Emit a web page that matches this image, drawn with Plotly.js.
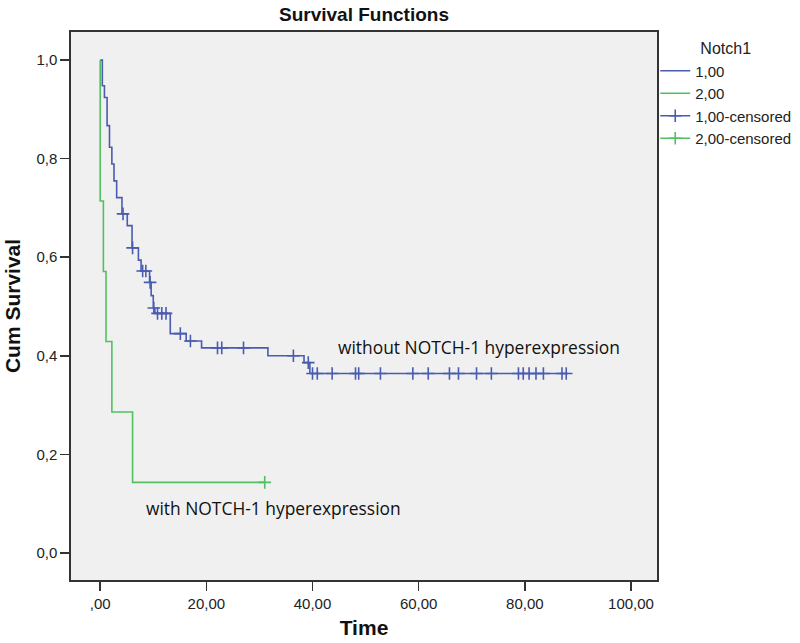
<!DOCTYPE html>
<html>
<head>
<meta charset="utf-8">
<script src="https://cdn.plot.ly/plotly-3.0.1.min.js"></script>
<style>
  body { margin: 0; background: #fff; }
  #chart { width: 800px; height: 643px; }
</style>
</head>
<body>
<div id="chart"></div>
<script>
// Kaplan-Meier survival by Notch1 group

// group 1,00 (without NOTCH-1 hyperexpression) - step curve
const blueTime = [0, 0.4, 0.8, 1.3, 1.75, 2.2, 2.6, 3.1, 4.1, 5.1, 6.0, 7.2, 7.7, 9.3, 9.6, 10.0, 10.3, 13.2, 16.2, 19.1, 31.6, 38.4, 39.5, 88.0];
const blueSurv = [1.0, 0.948, 0.924, 0.867, 0.823, 0.789, 0.755, 0.721, 0.688, 0.664, 0.619, 0.594, 0.572, 0.549, 0.522, 0.497, 0.486, 0.445, 0.430, 0.416, 0.400, 0.386, 0.364, 0.364];

// group 1,00 censored cases
const blueCensTime = [4.3, 6.1, 8.0, 8.6, 9.4, 10.1, 10.8, 11.6, 12.4, 15.1, 17.0, 22.1, 22.9, 27.0, 36.4, 39.2, 40.0, 40.9, 43.7, 48.1, 48.7, 52.8, 58.9, 61.8, 65.8, 67.5, 70.9, 73.7, 78.8, 79.7, 80.8, 82.1, 83.5, 87.0, 87.8];
const blueCensSurv = [0.688, 0.619, 0.572, 0.572, 0.549, 0.497, 0.486, 0.486, 0.486, 0.445, 0.430, 0.416, 0.416, 0.416, 0.400, 0.386, 0.364, 0.364, 0.364, 0.364, 0.364, 0.364, 0.364, 0.364, 0.364, 0.364, 0.364, 0.364, 0.364, 0.364, 0.364, 0.364, 0.364, 0.364, 0.364];

// group 2,00 (with NOTCH-1 hyperexpression)
const greenTime = [0, 0, 0.6, 1.1, 2.2, 6.1, 31.0];
const greenSurv = [1.0, 0.714, 0.571, 0.429, 0.286, 0.143, 0.143];
const greenCensTime = [31.0];
const greenCensSurv = [0.143];

// axis ticks
const xTickVals = [0, 20, 40, 60, 80, 100];
const xTickText = [',00', '20,00', '40,00', '60,00', '80,00', '100,00'];
const yTickVals = [0, 0.2, 0.4, 0.6, 0.8, 1.0];
const yTickText = ['0,0', '0,2', '0,4', '0,6', '0,8', '1,0'];

// curve labels
const labelText = ['without NOTCH-1 hyperexpression', 'with NOTCH-1 hyperexpression'];
const labelX = [44.4, 8.3];
const labelY = [0.418, 0.091];

const BLUE = '#4a5cb0';
const GREEN = '#52c060';
const FRAME = '#333333';

// break points apart with nulls so a lines+markers trace only shows the
// markers in the plot but still gets a line+cross swatch in the legend
function isolated(xs, ys) {
  const x = [], y = [];
  xs.forEach((v, i) => { x.push(v, null); y.push(ys[i], null); });
  return { x, y };
}

const blueCens = isolated(blueCensTime, blueCensSurv);
const greenCens = isolated(greenCensTime, greenCensSurv);

const traces = [
  {
    x: blueTime, y: blueSurv, name: '1,00',
    type: 'scatter', mode: 'lines',
    line: { color: BLUE, width: 1.6, shape: 'hv' }
  },
  {
    x: greenTime, y: greenSurv, name: '2,00',
    type: 'scatter', mode: 'lines',
    line: { color: GREEN, width: 1.6, shape: 'hv' }
  },
  {
    x: blueCens.x, y: blueCens.y, name: '1,00-censored',
    type: 'scatter', mode: 'lines+markers', connectgaps: false,
    line: { color: BLUE, width: 1.6 },
    marker: { symbol: 'cross-thin', size: 9, color: BLUE, line: { color: BLUE, width: 1.6 } }
  },
  {
    x: greenCens.x, y: greenCens.y, name: '2,00-censored',
    type: 'scatter', mode: 'lines+markers', connectgaps: false,
    line: { color: GREEN, width: 1.6 },
    marker: { symbol: 'cross-thin', size: 9, color: GREEN, line: { color: GREEN, width: 1.6 } }
  }
];

const annotations = labelText.map((t, i) => ({
  x: labelX[i], y: labelY[i], xref: 'x', yref: 'y',
  text: t, showarrow: false, xanchor: 'left', yanchor: 'middle',
  font: { family: 'Open Sans, sans-serif', size: 17.4, color: '#111' }
}));

const layout = {
  width: 800,
  height: 643,
  margin: { l: 71, r: 143, t: 32, b: 63, autoexpand: false },
  paper_bgcolor: '#ffffff',
  plot_bgcolor: '#f0f0f0',
  font: { family: 'Liberation Sans, Arial, sans-serif', color: '#222' },
  title: {
    text: '<b>Survival Functions</b>',
    font: { size: 19, color: '#111' },
    x: 0.455, xanchor: 'center', y: 0.977, yanchor: 'middle'
  },
  xaxis: {
    range: [-5.5, 104.9],
    tickvals: xTickVals, ticktext: xTickText,
    ticks: 'outside', ticklen: 9, tickwidth: 1.6, tickcolor: FRAME,
    tickfont: { size: 15, color: '#222' },
    showline: true, linecolor: FRAME, linewidth: 1.6, mirror: true,
    showgrid: false, zeroline: false,
    title: { text: '<b>Time</b>', font: { size: 21, color: '#111' }, standoff: 10 }
  },
  yaxis: {
    range: [-0.055, 1.057],
    tickvals: yTickVals, ticktext: yTickText,
    ticks: 'outside', ticklen: 9, tickwidth: 1.6, tickcolor: FRAME,
    tickfont: { size: 15, color: '#222' },
    showline: true, linecolor: FRAME, linewidth: 1.6, mirror: true,
    showgrid: false, zeroline: false,
    title: { text: '<b>Cum Survival</b>', font: { size: 21, color: '#111' }, standoff: 10 }
  },
  legend: {
    x: 0.997, xanchor: 'left', y: 0.997, yanchor: 'top',
    bgcolor: 'rgba(0,0,0,0)',
    font: { size: 15, color: '#222' },
    title: { text: 'Notch1', side: 'top center', font: { size: 16, color: '#222' } },
    itemwidth: 30, tracegroupgap: 0
  },
  showlegend: true,
  annotations: annotations
};

Plotly.newPlot('chart', traces, layout, { displayModeBar: false, staticPlot: true });
</script>
</body>
</html>
